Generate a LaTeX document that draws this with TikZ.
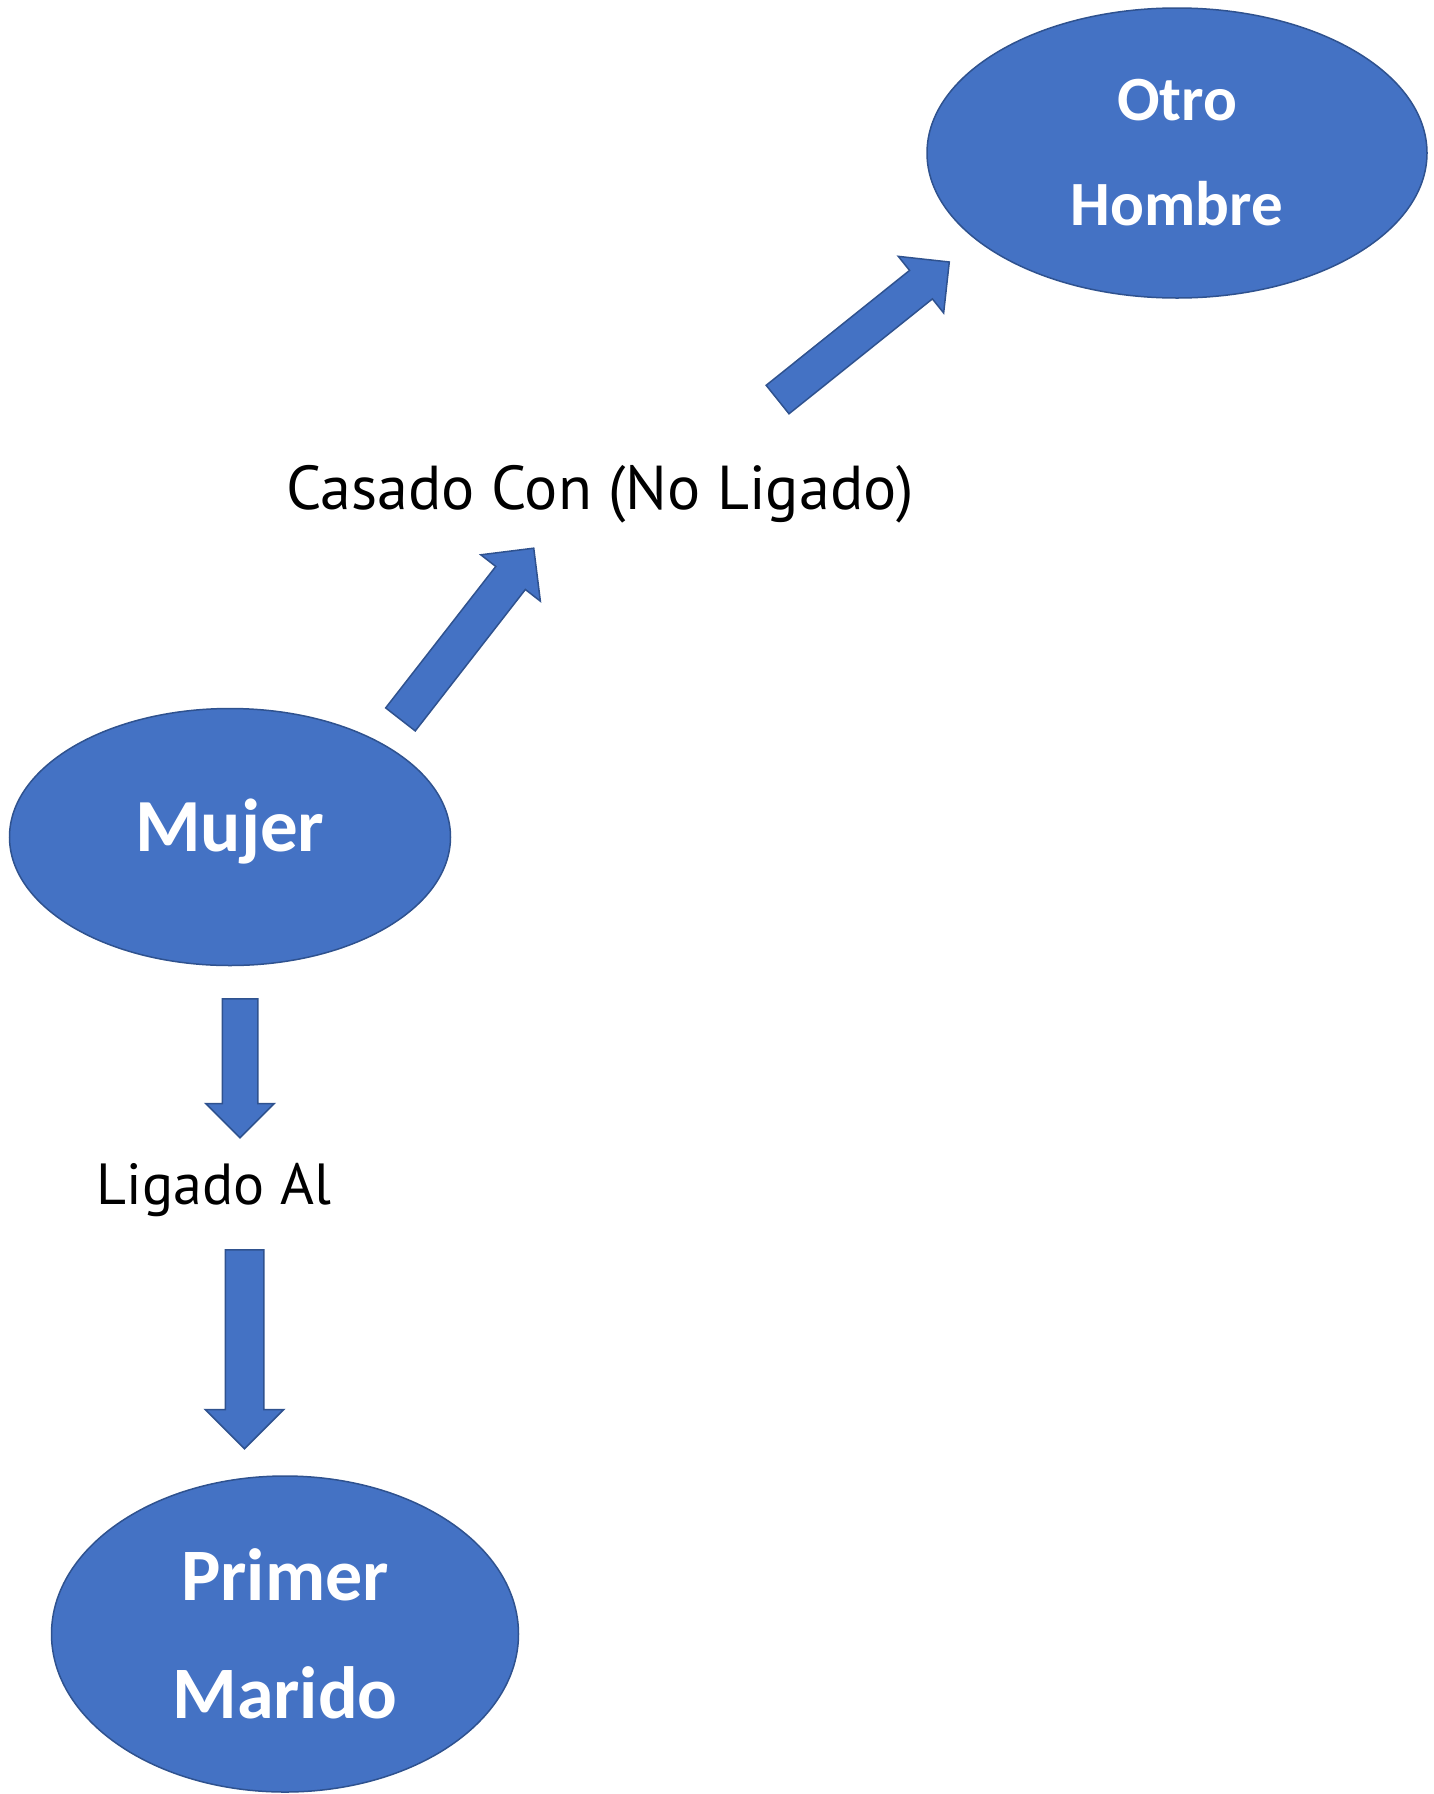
\documentclass[tikz,border=0pt]{standalone}
\usepackage{fontspec}
\setmainfont{PT Sans}
\newfontfamily\carlito{Carlito}
\definecolor{ofblue}{HTML}{4472C4}
\definecolor{ofborder}{HTML}{2F528F}
\usetikzlibrary{shapes.geometric, shapes.arrows}

\begin{document}
\begin{tikzpicture}[x=1pt, y=1pt,
    person/.style={
      ellipse, fill=ofblue, draw=ofborder,
      line width=1.5pt, align=center, inner sep=0pt,
      text=white},
    blockarrow/.style 2 args={
      single arrow, fill=ofblue, draw=ofborder,
      line width=1.5pt, inner xsep=0pt, inner ysep=#1,
      single arrow head extend=#2, anchor=tail},
    rel/.style={inner sep=0pt, anchor=base,
      font=\fontsize{58}{60}\selectfont}
  ]
    \useasboundingbox (0,0) rectangle (1434,-1794);

    \node[person, minimum width=500, minimum height=290,
      font=\carlito\bfseries\fontsize{63}{105}\selectfont] (otro) at (1177,-153)
      {Otro\\Hombre};
    \node[person, minimum width=441, minimum height=257, text depth=23pt,
      font=\carlito\bfseries\fontsize{75}{90}\selectfont] (mujer) at (230,-837)
      {Mujer};
    \node[person, minimum width=467, minimum height=316, text depth=-18pt,
      font=\carlito\bfseries\fontsize{74}{118}\selectfont] (primer) at (285,-1634)
      {Primer\\Marido};

    \node[rel, font=\fontsize{62}{64}\selectfont] (casado) at (600,-509) {Casado Con (No Ligado)};
    \node[rel] (ligado) at (214,-1204) {Ligado Al};

    % block arrows, placed by their tails
    \node[blockarrow={18}{19}, minimum height=217, rotate=52.1] (up1) at (400,-720) {};
    \node[blockarrow={17.5}{18}, minimum height=220, rotate=38.7] (up2) at (777,-400) {};
    \node[blockarrow={17}{16.5}, minimum height=139, rotate=-90] (down1) at (240,-998) {};
    \node[blockarrow={18.5}{20}, minimum height=199, rotate=-90] (down2) at (244.5,-1249) {};
\end{tikzpicture}
\end{document}
